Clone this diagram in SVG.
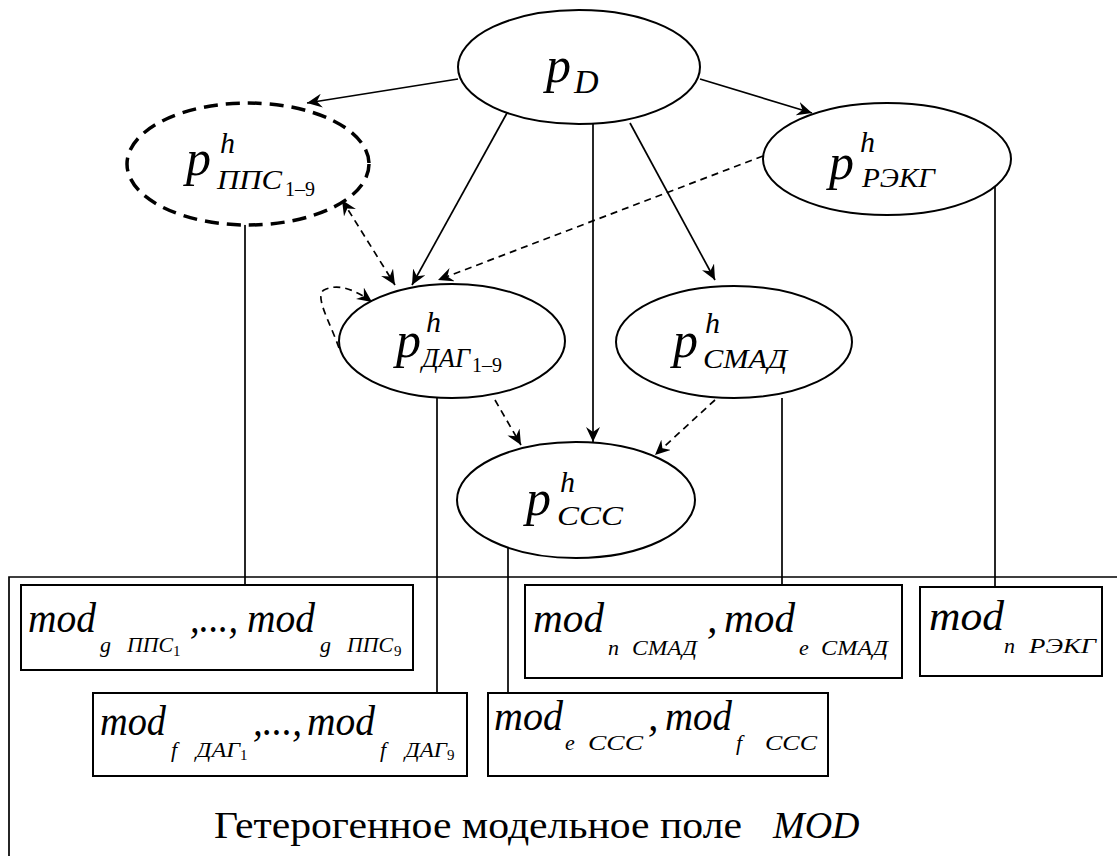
<svg xmlns="http://www.w3.org/2000/svg" width="1117" height="856" viewBox="0 0 1117 856" font-family="'Liberation Serif', 'Times New Roman', Times, serif">
<style>
.el{fill:#fff;stroke:#000;stroke-width:2}
.dash-el{fill:#fff;stroke:#000;stroke-width:3.5;stroke-dasharray:14 8}
.c{fill:none;stroke:#000;stroke-width:1.7}
.d{fill:none;stroke:#000;stroke-width:1.7;stroke-dasharray:7 5}
.box{fill:#fff;stroke:#000;stroke-width:2}
text{fill:#000}
.m{font-style:italic}
.p{font-size:50px}
.h{font-size:30px}
.s{font-size:28px}
.n{font-size:20px}
.bm{font-size:42px}
.bs{font-size:22px}
.bn{font-size:15px}
</style>
<defs>
<marker id="arr" markerUnits="userSpaceOnUse" markerWidth="16" markerHeight="14" refX="15" refY="7" orient="auto">
<path d="M0,0 L15,7 L0,14 L5,7 Z" fill="#000"/>
</marker>
<marker id="arrs" markerUnits="userSpaceOnUse" markerWidth="16" markerHeight="14" refX="15" refY="7" orient="auto-start-reverse">
<path d="M0,0 L15,7 L0,14 L5,7 Z" fill="#000"/>
</marker>
</defs>

<g id="frame">
<path class="c" d="M9,856 V577 H1117" stroke-width="2"/>
</g>

<g id="connectors">
<path class="c" d="M458,79 L307,103" marker-end="url(#arr)"/>
<path class="c" d="M700,79 L812,113" marker-end="url(#arr)"/>
<path class="c" d="M507,113 L412,285" marker-end="url(#arr)"/>
<path class="c" d="M593,123 L593,442" marker-end="url(#arr)"/>
<path class="c" d="M630,123 L715,280" marker-end="url(#arr)"/>
<path class="d" d="M763,156 L438,280" marker-end="url(#arr)"/>
<path class="d" d="M342,200 L395,285" marker-start="url(#arrs)" marker-end="url(#arrs)"/>
<path class="d" d="M339,348 C330,322 314,296 324,290 C340,282 358,292 372,302" marker-end="url(#arr)"/>
<path class="d" d="M495,400 L521,445" marker-end="url(#arr)"/>
<path class="d" d="M715,400 L655,455" marker-end="url(#arr)"/>
<path class="c" d="M245,224 V585"/>
<path class="c" d="M437,398 V693"/>
<path class="c" d="M508,547 V693"/>
<path class="c" d="M782,398 V585"/>
<path class="c" d="M995,186 V587"/>
</g>

<g id="node-pD">
<ellipse class="el" cx="579" cy="67" rx="121" ry="57"/>
<text class="m p" x="546" y="82">p</text>
<text class="m" font-size="34" x="574" y="93">D</text>
</g>

<g id="node-pps">
<ellipse class="dash-el" cx="248" cy="164" rx="121" ry="61"/>
<text class="m p" x="186" y="175">p</text>
<text class="m h" x="220" y="153">h</text>
<text class="m s" x="217" y="189" textLength="65" lengthAdjust="spacingAndGlyphs">ППС</text>
<text class="n" x="285" y="196">1–9</text>
</g>

<g id="node-rekg">
<ellipse class="el" cx="887" cy="159" rx="124" ry="56"/>
<text class="m p" x="829" y="179">p</text>
<text class="m h" x="860" y="152">h</text>
<text class="m s" x="862" y="187" textLength="73" lengthAdjust="spacingAndGlyphs">РЭКГ</text>
</g>

<g id="node-dag">
<ellipse class="el" cx="452" cy="341" rx="113" ry="57"/>
<text class="m p" x="396" y="357">p</text>
<text class="m h" x="426" y="332">h</text>
<text class="m s" x="422" y="367" textLength="48" lengthAdjust="spacingAndGlyphs">ДАГ</text>
<text class="n" x="472" y="372">1–9</text>
</g>

<g id="node-smad">
<ellipse class="el" cx="734" cy="342" rx="118" ry="56"/>
<text class="m p" x="673" y="357">p</text>
<text class="m h" x="705" y="333">h</text>
<text class="m s" x="703" y="368" textLength="84" lengthAdjust="spacingAndGlyphs">СМАД</text>
</g>

<g id="node-sss">
<ellipse class="el" cx="576" cy="500" rx="119" ry="58"/>
<text class="m p" x="526" y="515">p</text>
<text class="m h" x="560" y="492">h</text>
<text class="m s" x="557" y="525" textLength="66" lengthAdjust="spacingAndGlyphs">ССС</text>
</g>

<g id="box-pps">
<rect class="box" x="21" y="585" width="392" height="85"/>
<text class="m bm" x="28" y="632" textLength="68" lengthAdjust="spacingAndGlyphs">mod</text>
<text class="m bs" x="100" y="652">g</text>
<text class="m bs" x="127" y="652" textLength="46" lengthAdjust="spacingAndGlyphs">ППС</text>
<text class="bn" x="173" y="656">1</text>
<text class="m bm" x="190" y="632" textLength="48" lengthAdjust="spacingAndGlyphs">,...,</text>
<text class="m bm" x="247" y="632" textLength="68" lengthAdjust="spacingAndGlyphs">mod</text>
<text class="m bs" x="320" y="652">g</text>
<text class="m bs" x="347" y="652" textLength="46" lengthAdjust="spacingAndGlyphs">ППС</text>
<text class="bn" x="394" y="656">9</text>
</g>

<g id="box-dag">
<rect class="box" x="93" y="693" width="374" height="83"/>
<text class="m bm" x="100" y="735" textLength="66" lengthAdjust="spacingAndGlyphs">mod</text>
<text class="m bs" x="171" y="757">f</text>
<text class="m bs" x="196" y="757" textLength="44" lengthAdjust="spacingAndGlyphs">ДАГ</text>
<text class="bn" x="240" y="760">1</text>
<text class="m bm" x="253" y="735" textLength="49" lengthAdjust="spacingAndGlyphs">,...,</text>
<text class="m bm" x="307" y="735" textLength="68" lengthAdjust="spacingAndGlyphs">mod</text>
<text class="m bs" x="380" y="757">f</text>
<text class="m bs" x="405" y="757" textLength="42" lengthAdjust="spacingAndGlyphs">ДАГ</text>
<text class="bn" x="447" y="760">9</text>
</g>

<g id="box-smad">
<rect class="box" x="525" y="585" width="377" height="93"/>
<text class="m bm" x="533" y="632" textLength="71" lengthAdjust="spacingAndGlyphs">mod</text>
<text class="m bs" x="608" y="655">n</text>
<text class="m bs" x="632" y="655" textLength="65" lengthAdjust="spacingAndGlyphs">СМАД</text>
<text class="m bm" x="707" y="632">,</text>
<text class="m bm" x="724" y="632" textLength="71" lengthAdjust="spacingAndGlyphs">mod</text>
<text class="m bs" x="799" y="655">e</text>
<text class="m bs" x="821" y="655" textLength="67" lengthAdjust="spacingAndGlyphs">СМАД</text>
</g>

<g id="box-rekg">
<rect class="box" x="920" y="587" width="182" height="89"/>
<text class="m bm" x="929" y="630" textLength="75" lengthAdjust="spacingAndGlyphs">mod</text>
<text class="m bs" x="1004" y="653">n</text>
<text class="m bs" x="1029" y="653" textLength="67" lengthAdjust="spacingAndGlyphs">РЭКГ</text>
</g>

<g id="box-sss">
<rect class="box" x="488" y="693" width="340" height="83"/>
<text class="m bm" x="494" y="730" textLength="69" lengthAdjust="spacingAndGlyphs">mod</text>
<text class="m bs" x="565" y="750">e</text>
<text class="m bs" x="588" y="750" textLength="55" lengthAdjust="spacingAndGlyphs">ССС</text>
<text class="m bm" x="648" y="730">,</text>
<text class="m bm" x="665" y="730" textLength="67" lengthAdjust="spacingAndGlyphs">mod</text>
<text class="m bs" x="736" y="750">f</text>
<text class="m bs" x="765" y="750" textLength="52" lengthAdjust="spacingAndGlyphs">ССС</text>
</g>

<g id="caption">
<text font-size="38" x="214" y="838" textLength="528" lengthAdjust="spacingAndGlyphs">Гетерогенное модельное поле</text>
<text class="m" font-size="38" x="773" y="838">MOD</text>
</g>
</svg>
